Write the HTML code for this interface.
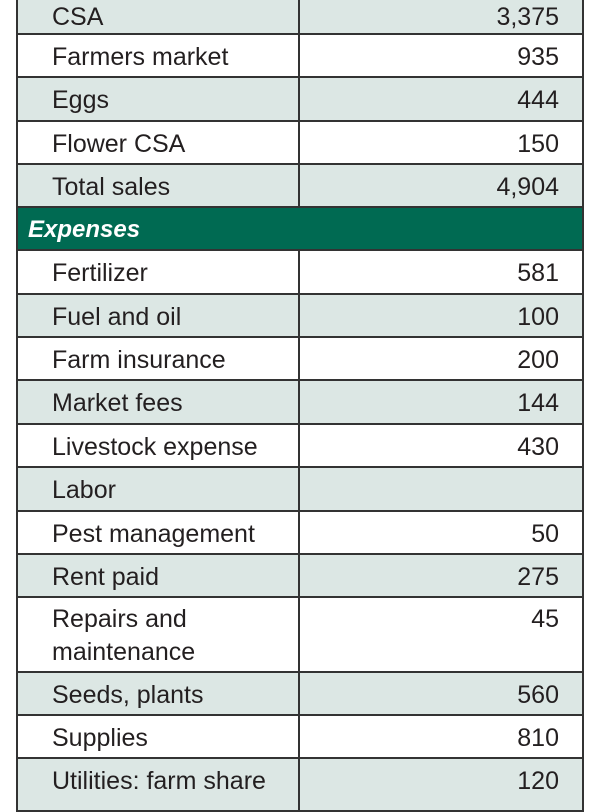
<!DOCTYPE html>
<html><head><meta charset="utf-8"><style>
body{margin:0;width:600px;height:800px;background:#fff;position:relative;overflow:hidden;font-family:"Liberation Sans",sans-serif;color:#231f20}
.r{position:absolute;left:16px;width:568px;border:2px solid #333;box-sizing:border-box;font-size:25px}
.r .a{position:absolute;left:34px;top:0}
.r .b{position:absolute;right:23px;top:0}
.r .d{position:absolute;left:280px;top:-2px;bottom:-2px;border-left:2px solid #333}
.l{background:#dce7e4}.w{background:#fff}
.g{background:#006a52;color:#fff;font-style:italic;font-weight:bold;font-size:24px}
</style></head><body>
<div class="r l" style="top:-12px;height:47px"><div class="d"></div><span class="a" style="top:13px">CSA</span><span class="b" style="top:13px">3,375</span></div>
<div class="r w" style="top:33px;height:45px"><div class="d"></div><span class="a" style="top:8px">Farmers market</span><span class="b" style="top:8px">935</span></div>
<div class="r l" style="top:76px;height:46px"><div class="d"></div><span class="a" style="top:8px">Eggs</span><span class="b" style="top:8px">444</span></div>
<div class="r w" style="top:120px;height:45px"><div class="d"></div><span class="a" style="top:8px">Flower CSA</span><span class="b" style="top:8px">150</span></div>
<div class="r l" style="top:163px;height:45px"><div class="d"></div><span class="a" style="top:8px">Total sales</span><span class="b" style="top:8px">4,904</span></div>
<div class="r g" style="top:206px;height:45px"><span class="a" style="top:8px;left:10px">Expenses</span></div>
<div class="r w" style="top:249px;height:46px"><div class="d"></div><span class="a" style="top:8px">Fertilizer</span><span class="b" style="top:8px">581</span></div>
<div class="r l" style="top:293px;height:45px"><div class="d"></div><span class="a" style="top:8px">Fuel and oil</span><span class="b" style="top:8px">100</span></div>
<div class="r w" style="top:336px;height:45px"><div class="d"></div><span class="a" style="top:8px">Farm insurance</span><span class="b" style="top:8px">200</span></div>
<div class="r l" style="top:379px;height:46px"><div class="d"></div><span class="a" style="top:8px">Market fees</span><span class="b" style="top:8px">144</span></div>
<div class="r w" style="top:423px;height:45px"><div class="d"></div><span class="a" style="top:8px">Livestock expense</span><span class="b" style="top:8px">430</span></div>
<div class="r l" style="top:466px;height:46px"><div class="d"></div><span class="a" style="top:8px">Labor</span></div>
<div class="r w" style="top:510px;height:45px"><div class="d"></div><span class="a" style="top:8px">Pest management</span><span class="b" style="top:8px">50</span></div>
<div class="r l" style="top:553px;height:45px"><div class="d"></div><span class="a" style="top:8px">Rent paid</span><span class="b" style="top:8px">275</span></div>
<div class="r w" style="top:596px;height:77px"><div class="d"></div><span class="a" style="top:5px;line-height:33px">Repairs and<br>maintenance</span><span class="b" style="top:5px;line-height:33px">45</span></div>
<div class="r l" style="top:671px;height:45px"><div class="d"></div><span class="a" style="top:8px">Seeds, plants</span><span class="b" style="top:8px">560</span></div>
<div class="r w" style="top:714px;height:45px"><div class="d"></div><span class="a" style="top:8px">Supplies</span><span class="b" style="top:8px">810</span></div>
<div class="r l" style="top:757px;height:55px"><div class="d"></div><span class="a" style="top:8px">Utilities: farm share</span><span class="b" style="top:8px">120</span></div>
</body></html>
